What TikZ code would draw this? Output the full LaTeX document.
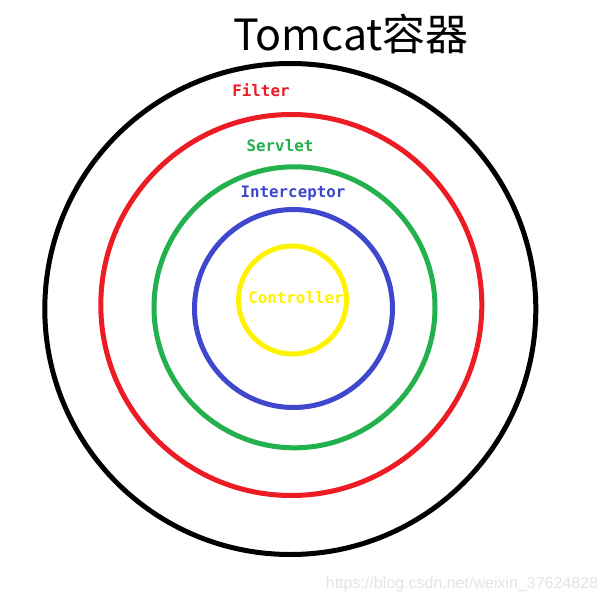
\documentclass[tikz,border=0pt]{standalone}
\usepackage{fontspec}
\newfontfamily\cjk{Noto Sans CJK SC}
\newfontfamily\labfont{DejaVu Sans Mono}
\newfontfamily\wmfont{Liberation Sans}
\definecolor{pred}{HTML}{ED1C24}
\definecolor{pgreen}{HTML}{22B14C}
\definecolor{pblue}{HTML}{3F48CC}
\definecolor{pyellow}{HTML}{FFF200}
\definecolor{wm}{HTML}{E4E4E4}
\begin{document}
\begin{tikzpicture}[x=1pt,y=-1pt,
  ring/.style={circle,draw,line width=5pt,inner sep=0pt,outer sep=0pt},
  lab/.style={font=\labfont\bfseries\fontsize{15.8}{16}\selectfont,inner sep=0pt}]
\useasboundingbox[fill=white] (0,0) rectangle (608,605);
\node[ring,draw=black,minimum size=491pt] (tomcat) at (290.3,309) {};
\node[ring,draw=pred,minimum size=381pt] (filter) at (291.3,305) {};
\node[ring,draw=pgreen,minimum size=281pt] (servlet) at (294.5,307.3) {};
\node[ring,draw=pblue,minimum size=198pt] (interceptor) at (293.5,308.5) {};
\node[ring,draw=pyellow,minimum size=108pt] (controller) at (292.5,300) {};
\node[font=\cjk\fontsize{43}{45}\selectfont,inner sep=0pt] (title) at (351,34) {Tomcat容器};
\node[lab,text=pred] (lfilter) at (261,90) {Filter};
\node[lab,text=pgreen] (lservlet) at (280,145.5) {Servlet};
\node[lab,text=pblue] (linterceptor) at (293,193) {Interceptor};
\node[lab,text=pyellow] (lcontroller) at (296,298) {Controller};
\node[font=\wmfont\fontsize{16}{17}\selectfont,text=wm,inner sep=0pt] (wmark) at (462,584) {https://blog.csdn.net/weixin\_37624828};
\end{tikzpicture}
\end{document}
